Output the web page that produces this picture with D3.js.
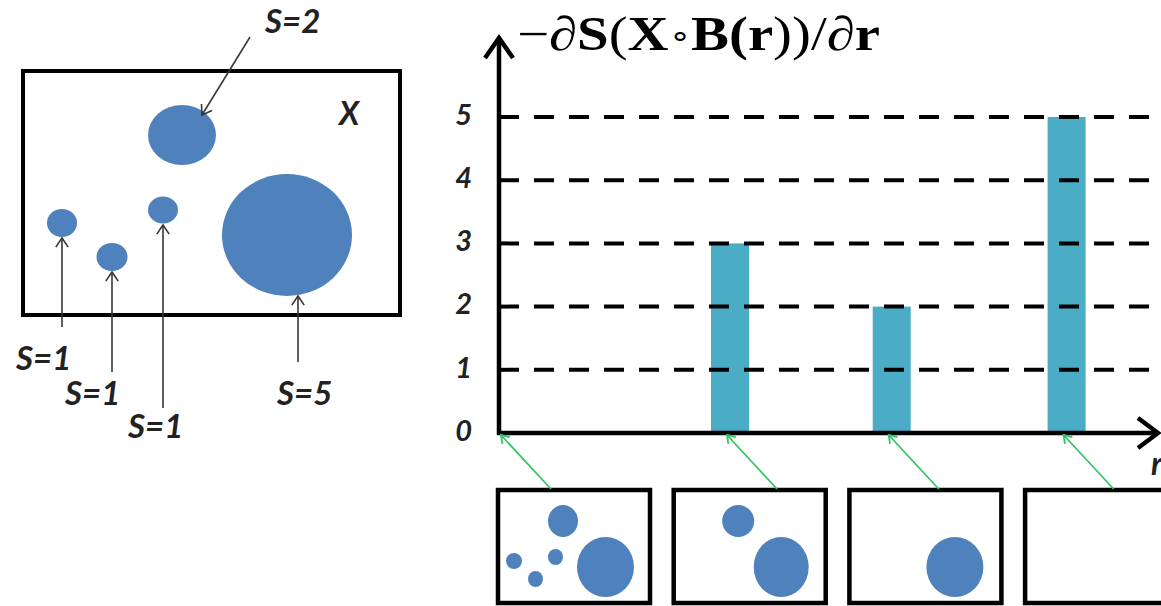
<!DOCTYPE html>
<html>
<head>
<meta charset="utf-8">
<script src="https://cdn.jsdelivr.net/npm/d3@7/dist/d3.min.js"></script>
<style>
  html, body { margin: 0; padding: 0; background: #ffffff; }
  svg { display: block; }
</style>
</head>
<body>
<svg id="chart" width="1161" height="606"></svg>
<script>
// ---------------- DATA ----------------
const stages = ["r0", "r1", "r2", "r3"];          // opening radius stages (thumbnails)
const rValues = [0, 1.4, 2.38, 3.44];               // position of each stage on the r axis
const derivValues = [0, 3, 2, 5];                   // -dS(X∘B(r))/dr at each stage
const yTickLabels = [0, 1, 2, 3, 4, 5];
const blobLabels = ["S=1", "S=1", "S=1", "S=2", "S=5"];
const titleText = "−∂S(X∘B(r))/∂r";
const xAxisLabel = "r";
const setLabel = "X";

// ---------------- STYLE ----------------
const BAR = "#4BACC6", BLOB = "#4F81BD", GREEN = "#35C466", ARROW = "#383838";
const LABEL_FONT = "Lato, 'Open Sans', 'Liberation Sans', sans-serif";

const svg = d3.select("#chart");
svg.append("rect").attr("width", 1161).attr("height", 606).attr("fill", "#fff");

function arrow(g, x1, y1, x2, y2, color, w, head, ang) {
  g.append("line").attr("x1", x1).attr("y1", y1).attr("x2", x2).attr("y2", y2)
    .attr("stroke", color).attr("stroke-width", w);
  const a = Math.atan2(y2 - y1, x2 - x1);
  const pts = [a + Math.PI - ang, a + Math.PI + ang].map(t => [x2 + head * Math.cos(t), y2 + head * Math.sin(t)]);
  g.append("path").attr("d", `M${pts[0][0]},${pts[0][1]}L${x2},${y2}L${pts[1][0]},${pts[1][1]}`)
    .attr("fill", "none").attr("stroke", color).attr("stroke-width", w)
    .attr("stroke-linejoin", "miter");
}

// ---------------- LEFT ILLUSTRATION ----------------
const left = svg.append("g");
left.append("rect").attr("x", 23).attr("y", 71).attr("width", 377).attr("height", 244)
  .attr("fill", "none").attr("stroke", "#000").attr("stroke-width", 4);

const blobs = [
  { cx: 62,  cy: 223, rx: 15,   ry: 14,   ax1: 62,  ay1: 327, ax2: 62,  ay2: 238, tx: 16,  ty: 370 },
  { cx: 112, cy: 257, rx: 15.5, ry: 14,   ax1: 112, ay1: 372, ax2: 112, ay2: 272, tx: 65,  ty: 405 },
  { cx: 163, cy: 210, rx: 15,   ry: 13.5, ax1: 163, ay1: 408, ax2: 163, ay2: 225, tx: 128, ty: 438 },
  { cx: 182, cy: 135, rx: 34,   ry: 30,   ax1: 250, ay1: 37,  ax2: 202, ay2: 115, tx: 265, ty: 33 },
  { cx: 287, cy: 235, rx: 65,   ry: 61,   ax1: 298, ay1: 362, ax2: 298, ay2: 296, tx: 277, ty: 405 }
];
left.selectAll("ellipse").data(blobs).join("ellipse")
  .attr("cx", d => d.cx).attr("cy", d => d.cy).attr("rx", d => d.rx).attr("ry", d => d.ry)
  .attr("fill", BLOB);
blobs.forEach(d => arrow(left, d.ax1, d.ay1, d.ax2, d.ay2, ARROW, 1.6, 11, 0.6));
left.selectAll("text.s").data(blobs).join("text").attr("class", "s")
  .attr("x", d => d.tx).attr("y", d => d.ty)
  .attr("font-family", LABEL_FONT).attr("font-style", "italic").attr("font-weight", "bold")
  .attr("font-size", 33).attr("fill", "#222")
  .text((d, i) => blobLabels[i]);
left.append("text").attr("x", 339).attr("y", 125)
  .attr("font-family", LABEL_FONT).attr("font-style", "italic").attr("font-weight", "bold")
  .attr("font-size", 32).attr("fill", "#222").text(setLabel);

// ---------------- RIGHT CHART ----------------
const x = d3.scaleLinear().domain([0, 4]).range([499, 1159]);
const y = d3.scaleLinear().domain([0, 5]).range([433, 117]);
const chart = svg.append("g");

// bars
chart.selectAll("rect.bar").data(derivValues.map((v, i) => ({ v, r: rValues[i] })).filter(d => d.v > 0))
  .join("rect").attr("class", "bar")
  .attr("x", d => x(d.r) - 19).attr("width", 38)
  .attr("y", d => y(d.v)).attr("height", d => y(0) - y(d.v))
  .attr("fill", BAR);

// dashed grid lines
chart.selectAll("line.grid").data(yTickLabels.filter(t => t > 0)).join("line").attr("class", "grid")
  .attr("x1", x(0)).attr("x2", 1149).attr("y1", d => y(d)).attr("y2", d => y(d))
  .attr("stroke", "#000").attr("stroke-width", 4).attr("stroke-dasharray", "20,15");

// y axis tick labels via d3 axis
const yAxis = chart.append("g").attr("transform", `translate(${x(0)},0)`)
  .call(d3.axisLeft(y).tickValues(yTickLabels).tickSize(0).tickPadding(27).tickFormat(d3.format("d")));
yAxis.select(".domain").remove();
yAxis.selectAll("text").attr("font-family", LABEL_FONT).attr("font-style", "italic")
  .attr("font-weight", "bold").attr("font-size", 29).attr("fill", "#222").attr("dy", "0.25em");

// axis lines with arrow heads
chart.append("line").attr("x1", x(0)).attr("x2", x(0)).attr("y1", y(0) + 2).attr("y2", 39)
  .attr("stroke", "#000").attr("stroke-width", 4.5);
chart.append("path").attr("d", `M${x(0) - 14},58L${x(0)},38L${x(0) + 14},58`)
  .attr("fill", "none").attr("stroke", "#000").attr("stroke-width", 4.5);
chart.append("line").attr("x1", x(0) - 2).attr("x2", 1157).attr("y1", y(0)).attr("y2", y(0))
  .attr("stroke", "#000").attr("stroke-width", 4.5);
chart.append("path").attr("d", `M1138,${y(0) - 15}L1158,${y(0)}L1138,${y(0) + 15}`)
  .attr("fill", "none").attr("stroke", "#000").attr("stroke-width", 4.5);

chart.append("text").attr("x", 1151).attr("y", 475)
  .attr("font-family", LABEL_FONT).attr("font-style", "italic").attr("font-weight", "bold")
  .attr("font-size", 32).attr("fill", "#222").text(xAxisLabel);

// title
const title = chart.append("text").attr("x", 517).attr("y", 50)
  .attr("font-family", "'Liberation Serif', 'Times New Roman', serif").attr("font-size", 48)
  .attr("fill", "#000").attr("textLength", 363).attr("lengthAdjust", "spacingAndGlyphs");
const parts = [
  ["−", "normal", "normal", 48], ["∂", "italic", "normal", 48], ["S", "normal", "bold", 48], ["(", "normal", "normal", 48],
  ["X", "normal", "bold", 48], ["∘", "normal", "normal", 30], ["B", "normal", "bold", 48], ["(", "normal", "bold", 48],
  ["r", "normal", "bold", 48], ["))/", "normal", "normal", 48], ["∂", "italic", "normal", 48], ["r", "normal", "bold", 48]
];
title.selectAll("tspan").data(parts).join("tspan")
  .attr("font-style", d => d[1]).attr("font-weight", d => d[2]).attr("font-size", d => d[3])
  .attr("dy", (d, i) => d[3] === 30 ? -4 : (i > 0 && parts[i - 1][3] === 30 ? 4 : 0))
  .text(d => d[0]);

// ---------------- THUMBNAILS ----------------
const thumbShapes = [
  [{ dx: 65, dy: 31, rx: 15, ry: 16 }, { dx: 16, dy: 71, rx: 8, ry: 8 }, { dx: 37.5, dy: 89, rx: 7.5, ry: 8 },
   { dx: 57.5, dy: 67, rx: 7.5, ry: 8 }, { dx: 107.5, dy: 77, rx: 28.5, ry: 30 }],
  [{ dx: 64.5, dy: 31, rx: 16, ry: 16 }, { dx: 107.5, dy: 77, rx: 27.5, ry: 30 }],
  [{ dx: 105.5, dy: 77, rx: 28.5, ry: 30 }],
  []
];
const thumbs = svg.append("g");
stages.forEach((s, i) => {
  const bx = 498 + i * 175.7, by = 490;
  const g = thumbs.append("g").attr("class", "thumb-" + s);
  g.selectAll("ellipse").data(thumbShapes[i]).join("ellipse")
    .attr("cx", d => bx + d.dx).attr("cy", d => by + d.dy).attr("rx", d => d.rx).attr("ry", d => d.ry)
    .attr("fill", BLOB);
  g.append("rect").attr("x", bx).attr("y", by).attr("width", 152).attr("height", 113)
    .attr("fill", "none").attr("stroke", "#000").attr("stroke-width", 4.5);
  const tip = Math.max(x(rValues[i]) - 3, 501);
  arrow(g, tip + 50, by - 1, tip, y(0) + 2, GREEN, 1.8, 9, 0.6);
});
</script>
</body>
</html>
